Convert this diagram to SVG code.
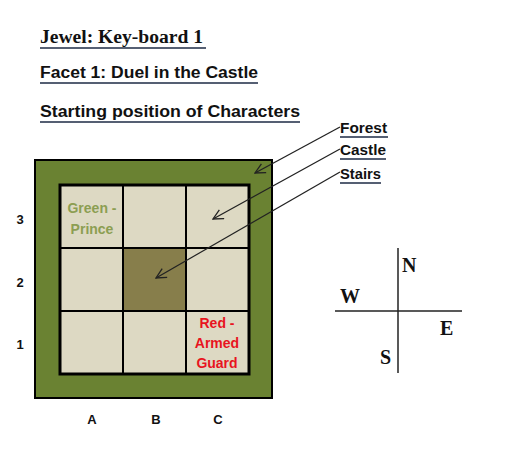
<svg xmlns="http://www.w3.org/2000/svg" width="505" height="471" viewBox="0 0 505 471">
<style>
.t{font-family:"Liberation Serif",serif;font-weight:bold;fill:#111}
.s{font-family:"Liberation Sans",Arial,sans-serif;font-weight:bold;fill:#111}
.u{stroke:#1c2a44;stroke-width:1.6}
.cell{fill:#ddd9c3;stroke:#000;stroke-width:2}
.lbl{font-family:"Liberation Sans",Arial,sans-serif;font-weight:bold;font-size:14px;text-anchor:middle}
.con{stroke:#222;stroke-width:1.3;fill:none}
</style>
<defs>
<marker id="ah" viewBox="0 0 12 12" refX="11" refY="6" markerWidth="12" markerHeight="12" markerUnits="userSpaceOnUse" orient="auto">
<path d="M1,1 L11,6 L1,11" fill="none" stroke="#222" stroke-width="1.3"/>
</marker>
</defs>
<rect width="505" height="471" fill="#fff"/>
<g id="titles">
<text class="t" x="40" y="43" font-size="18" textLength="163" lengthAdjust="spacingAndGlyphs">Jewel: Key-board 1</text>
<line class="u" x1="40" y1="48" x2="206" y2="48"/>
<text class="s" x="40" y="78" font-size="16" textLength="218" lengthAdjust="spacingAndGlyphs">Facet 1: Duel in the Castle</text>
<line class="u" x1="40" y1="83" x2="258" y2="83"/>
<text class="s" x="40" y="117" font-size="16" textLength="260" lengthAdjust="spacingAndGlyphs">Starting position of Characters</text>
<line class="u" x1="40" y1="122" x2="300" y2="122"/>
</g>
<g id="board">
<rect x="35" y="160" width="237" height="238" fill="#6a8232" stroke="#000" stroke-width="2"/>
<rect class="cell" x="60" y="185" width="63" height="63"/>
<rect class="cell" x="123" y="185" width="63" height="63"/>
<rect class="cell" x="186" y="185" width="63" height="63"/>
<rect class="cell" x="60" y="248" width="63" height="63"/>
<rect x="123" y="248" width="63" height="63" fill="#877e4b" stroke="#000" stroke-width="2"/>
<rect class="cell" x="186" y="248" width="63" height="63"/>
<rect class="cell" x="60" y="311" width="63" height="63"/>
<rect class="cell" x="123" y="311" width="63" height="63"/>
<rect class="cell" x="186" y="311" width="63" height="63"/>
<rect x="60" y="185" width="189" height="189" fill="none" stroke="#000" stroke-width="3"/>
</g>
<g id="green-prince">
<text class="lbl" x="92" y="213" fill="#8c9e52">Green -</text>
<text class="lbl" x="92" y="234" fill="#8c9e52">Prince</text>
</g>
<g id="red-guard">
<text class="lbl" x="217" y="328" fill="#e8141e">Red -</text>
<text class="lbl" x="217" y="348" fill="#e8141e">Armed</text>
<text class="lbl" x="217" y="368" fill="#e8141e">Guard</text>
</g>
<g id="axes">
<text class="s" x="20" y="224" font-size="13" text-anchor="middle">3</text>
<text class="s" x="20" y="287" font-size="13" text-anchor="middle">2</text>
<text class="s" x="20" y="349" font-size="13" text-anchor="middle">1</text>
<text class="s" x="92" y="424" font-size="13" text-anchor="middle">A</text>
<text class="s" x="156" y="424" font-size="13" text-anchor="middle">B</text>
<text class="s" x="218" y="424" font-size="13" text-anchor="middle">C</text>
</g>
<g id="forest">
<text class="s" x="340" y="133" font-size="15" textLength="47" lengthAdjust="spacingAndGlyphs">Forest</text>
<line class="u" x1="340" y1="137" x2="388" y2="137"/>
</g>
<g id="castle">
<text class="s" x="340" y="155" font-size="15" textLength="46" lengthAdjust="spacingAndGlyphs">Castle</text>
<line class="u" x1="340" y1="159" x2="386" y2="159"/>
</g>
<g id="stairs">
<text class="s" x="340" y="179" font-size="15" textLength="41" lengthAdjust="spacingAndGlyphs">Stairs</text>
<line class="u" x1="340" y1="183" x2="381" y2="183"/>
</g>
<g id="connectors">
<line class="con" x1="340" y1="127" x2="255" y2="173" marker-end="url(#ah)"/>
<line class="con" x1="340" y1="149" x2="213" y2="219" marker-end="url(#ah)"/>
<line class="con" x1="340" y1="172" x2="156" y2="278" marker-end="url(#ah)"/>
</g>
<g id="compass">
<line x1="398" y1="248" x2="398" y2="373" stroke="#222" stroke-width="1.5"/>
<line x1="335" y1="311" x2="462" y2="311" stroke="#222" stroke-width="1.5"/>
<text class="t" x="402" y="272" font-size="20">N</text>
<text class="t" x="340" y="303" font-size="20">W</text>
<text class="t" x="440" y="335" font-size="20">E</text>
<text class="t" x="380" y="364" font-size="20">S</text>
</g>
</svg>
